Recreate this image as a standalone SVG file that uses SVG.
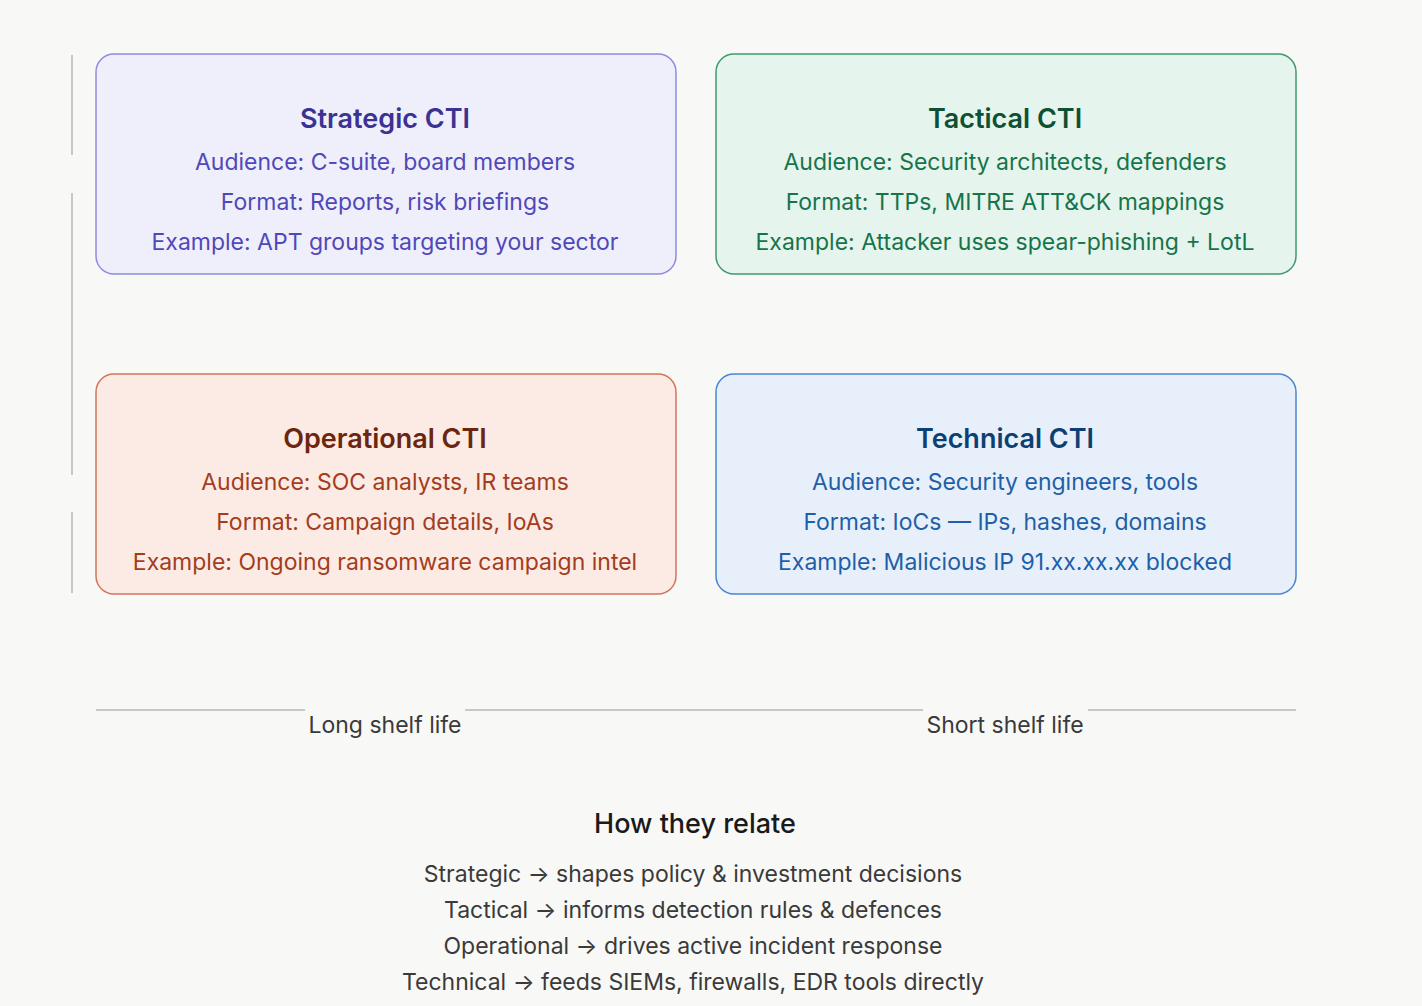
<svg xmlns="http://www.w3.org/2000/svg" width="1422" height="1006" viewBox="0 0 1422 1006">
<style>
text{font-family:Inter,"Noto Sans",sans-serif;text-anchor:middle}
.t{font-size:27px;font-weight:600}
.l{font-size:23px}
.ax{stroke:#c8c8c8;stroke-width:2;fill:none}
.lab{font-size:23px;fill:#3a3a3a}
</style>
<rect width="1422" height="1006" fill="#f8f8f6"/>
<g id="axes">
<path class="ax" d="M72 55V155M72 193V475M72 512V593"/>
<path class="ax" d="M96 710H305M465 710H923M1088 710H1296"/>
<text class="lab" x="385" y="733">Long shelf life</text>
<text class="lab" x="1005" y="733">Short shelf life</text>
</g>
<g id="strategic">
<rect x="96" y="54" width="580" height="220" rx="18" fill="#efeffc" stroke="#8f8be0" stroke-width="1.5"/>
<text class="t" x="385" y="128" fill="#3b3291">Strategic CTI</text>
<text class="l" x="385" y="170" fill="#5148b8">Audience: C-suite, board members</text>
<text class="l" x="385" y="210" fill="#5148b8">Format: Reports, risk briefings</text>
<text class="l" x="385" y="250" fill="#5148b8">Example: APT groups targeting your sector</text>
</g>
<g id="tactical">
<rect x="716" y="54" width="580" height="220" rx="18" fill="#e5f4ed" stroke="#3f9a6c" stroke-width="1.5"/>
<text class="t" x="1005" y="128" fill="#0f4f33">Tactical CTI</text>
<text class="l" x="1005" y="170" fill="#17744a">Audience: Security architects, defenders</text>
<text class="l" x="1005" y="210" fill="#17744a">Format: TTPs, MITRE ATT&amp;CK mappings</text>
<text class="l" x="1005" y="250" fill="#17744a">Example: Attacker uses spear-phishing + LotL</text>
</g>
<g id="operational">
<rect x="96" y="374" width="580" height="220" rx="18" fill="#fcebe5" stroke="#d0765a" stroke-width="1.5"/>
<text class="t" x="385" y="448" fill="#6b2610">Operational CTI</text>
<text class="l" x="385" y="490" fill="#a33d1c">Audience: SOC analysts, IR teams</text>
<text class="l" x="385" y="530" fill="#a33d1c">Format: Campaign details, IoAs</text>
<text class="l" x="385" y="570" fill="#a33d1c">Example: Ongoing ransomware campaign intel</text>
</g>
<g id="technical">
<rect x="716" y="374" width="580" height="220" rx="18" fill="#e7f0fa" stroke="#4a86cf" stroke-width="1.5"/>
<text class="t" x="1005" y="448" fill="#0e3f73">Technical CTI</text>
<text class="l" x="1005" y="490" fill="#1f5fa8">Audience: Security engineers, tools</text>
<text class="l" x="1005" y="530" fill="#1f5fa8">Format: IoCs — IPs, hashes, domains</text>
<text class="l" x="1005" y="570" fill="#1f5fa8">Example: Malicious IP 91.xx.xx.xx blocked</text>
</g>
<g id="relate">
<text x="695" y="833" font-size="27" font-weight="500" fill="#1a1a1a">How they relate</text>
<text class="lab" x="693" y="882">Strategic → shapes policy &amp; investment decisions</text>
<text class="lab" x="693" y="918">Tactical → informs detection rules &amp; defences</text>
<text class="lab" x="693" y="954">Operational → drives active incident response</text>
<text class="lab" x="693" y="990">Technical → feeds SIEMs, firewalls, EDR tools directly</text>
</g>
</svg>
